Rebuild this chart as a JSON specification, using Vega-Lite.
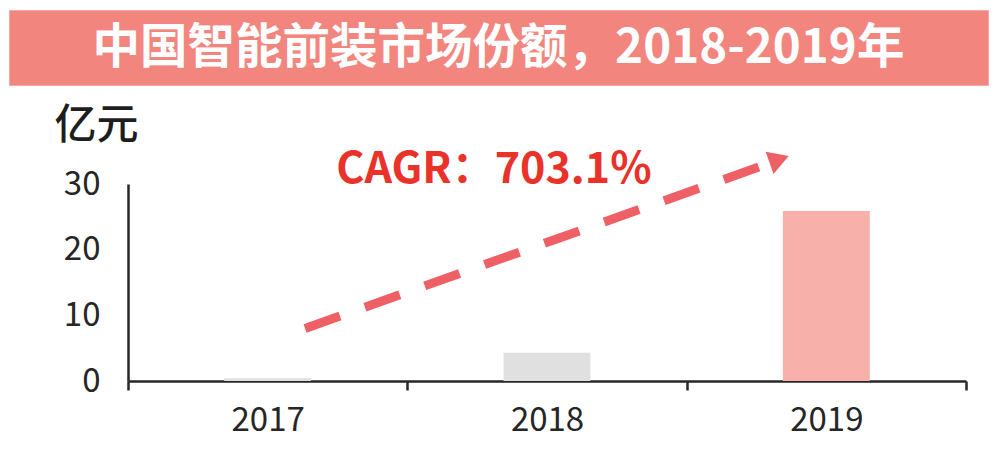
{
  "$schema": "https://vega.github.io/schema/vega-lite/v6.json",
  "description": "中国智能前装市场份额，2018-2019年",
  "padding": {"left": 8, "top": 9, "right": 13, "bottom": 62},
  "bounds": "flush",
  "spacing": 99,
  "config": {
    "view": {"stroke": null},
    "font": "Noto Sans CJK SC"
  },
  "vconcat": [
    {
      "width": 979,
      "height": 75,
      "view": {"fill": "#F2857D", "stroke": "#F6A8A2", "strokeWidth": 1},
      "data": {"values": [{"title": "中国智能前装市场份额，2018-2019年"}]},
      "mark": {"type": "text", "color": "white", "fontSize": 47.5, "fontWeight": "bold", "baseline": "middle", "align": "center", "dy": 1, "font": "Noto Sans CJK SC"},
      "encoding": {"text": {"field": "title"}}
    },
    {
      "width": 979,
      "height": 197,
      "layer": [
        {
          "data": {"values": [
            {"year": "2017", "value": 0.4},
            {"year": "2018", "value": 4.3},
            {"year": "2019", "value": 25.9}
          ]},
          "mark": {"type": "bar", "width": {"band": 0.311}},
          "encoding": {
            "x": {
              "field": "year", "type": "nominal",
              "scale": {"range": [119, 957], "paddingInner": 0, "paddingOuter": 0},
              "axis": {
                "title": null, "labelAngle": 0, "tickBand": "extent",
                "domainColor": "#262626", "domainWidth": 2.5,
                "tickColor": "#262626", "tickWidth": 2.5, "tickSize": 9,
                "labelFontSize": 33, "labelColor": "#262626", "labelPadding": 14,
                "labelFont": "Noto Sans CJK SC"
              }
            },
            "y": {
              "field": "value", "type": "quantitative",
              "scale": {"domain": [0, 30], "nice": false},
              "axis": {
                "values": [0, 10, 20, 30], "ticks": false, "grid": false, "offset": -119,
                "domainColor": "#262626", "domainWidth": 2.5,
                "labelFontSize": 33, "labelColor": "#262626", "labelPadding": 28,
                "labelFont": "Noto Sans CJK SC",
                "title": "亿元", "titleAngle": 0, "titleX": -32, "titleY": -59,
                "titleAlign": "center", "titleBaseline": "middle",
                "titleFontSize": 42, "titleFontWeight": 500, "titleColor": "#1E1E1E",
                "titleFont": "Noto Sans CJK SC"
              }
            },
            "color": {
              "field": "year", "type": "nominal",
              "scale": {"domain": ["2017", "2018", "2019"], "range": ["#E0E0E0", "#E0E0E0", "#F7B0AA"]},
              "legend": null
            }
          }
        },
        {
          "data": {"values": [
            {"pos": 0.634, "v": 8.0},
            {"pos": 2.288, "v": 33.04}
          ]},
          "mark": {"type": "line", "color": "#EE5F66", "strokeWidth": 9, "strokeDash": [37, 26.5], "strokeCap": "butt"},
          "encoding": {
            "x": {"field": "pos", "type": "quantitative", "scale": {"domain": [0, 3], "range": [119, 957]}, "axis": null},
            "y": {"field": "v", "type": "quantitative"}
          }
        },
        {
          "data": {"values": [{"pos": 2.331, "v": 33.73}]},
          "mark": {"type": "point", "shape": "triangle-right", "filled": true, "opacity": 1, "color": "#EE5F66", "size": 550, "angle": 340.4},
          "encoding": {
            "x": {"field": "pos", "type": "quantitative", "scale": {"domain": [0, 3], "range": [119, 957]}, "axis": null},
            "y": {"field": "v", "type": "quantitative"}
          }
        },
        {
          "data": {"values": [{"pos": 1.31, "v": 32.1, "label": "CAGR：703.1%"}]},
          "mark": {"type": "text", "color": "#E8322A", "fontSize": 43, "fontWeight": "bold", "align": "center", "baseline": "middle", "font": "Noto Sans CJK SC"},
          "encoding": {
            "x": {"field": "pos", "type": "quantitative", "scale": {"domain": [0, 3], "range": [119, 957]}, "axis": null},
            "y": {"field": "v", "type": "quantitative"},
            "text": {"field": "label"}
          }
        }
      ],
      "resolve": {"scale": {"x": "independent"}}
    }
  ]
}
